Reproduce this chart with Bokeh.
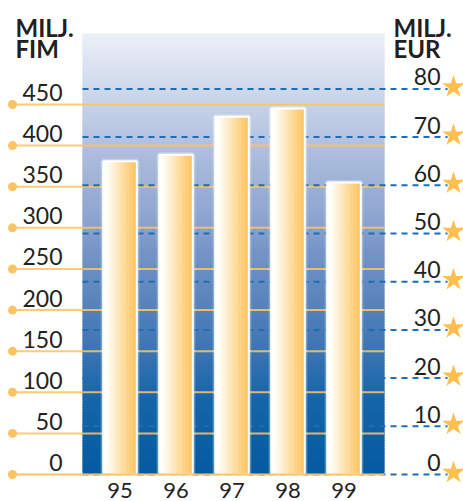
import numpy as np
from bokeh.plotting import figure
from bokeh.models import Range1d
from bokeh.core.properties import value
from bokeh.embed import file_html
from bokeh.resources import INLINE

# ---------------- data ----------------
years = ["95", "96", "97", "98", "99"]
fim_values = [381, 389, 435, 445, 355]
fim_ticks = [0, 50, 100, 150, 200, 250, 300, 350, 400, 450]
fim_tick_labels = ["0", "50", "100", "150", "200", "250", "300", "350", "400", "450"]
eur_ticks = [0, 10, 20, 30, 40, 50, 60, 70, 80]
eur_tick_labels = ["0", "10", "20", "30", "40", "50", "60", "70", "80"]
left_title = ["MILJ.", "FIM"]
right_title = ["MILJ.", "EUR"]

# ---------------- layout (picture pixels) ----------------
W, H = 463, 501
CAT0_PX, CAT_PX = 119.5, 56.0
BASE_PX, FIM_PX, EUR_PX = 474.0, 0.8222, 4.82
PLOT_L, PLOT_R, PLOT_T = 82, 384, 33
FONT = value("Lato")
TXT = "#231f20"
ORANGE = "#fbc462"
BLUE = "#1d6db5"


def xd(px):
    return (px - CAT0_PX) / CAT_PX


def yf(py):
    return (BASE_PX - py) / FIM_PX


def ye(py):
    return (BASE_PX - py) / EUR_PX


def interp(stops, t):
    ts = [s[0] for s in stops]
    out = []
    for tt in np.atleast_1d(t):
        rgb = [int(round(np.interp(tt, ts, [s[1][c] for s in stops]))) for c in range(3)]
        out.append("#%02x%02x%02x" % tuple(rgb))
    return out


p = figure(width=W, height=H, output_backend="svg", toolbar_location=None,
           x_range=Range1d(xd(0), xd(W)),
           y_range=Range1d(yf(H), yf(0)),
           x_axis_location=None, y_axis_location=None,
           min_border=0, min_border_left=0, min_border_right=0,
           min_border_top=0, min_border_bottom=0)
p.extra_y_ranges = {"eur": Range1d(ye(H), ye(0))}
p.grid.visible = False
p.outline_line_color = None
p.background_fill_color = "white"
p.border_fill_color = "white"

# background gradient of plot area
bg_stops = [(0.0, (5, 90, 160)), (0.168, (21, 101, 170)), (0.281, (60, 116, 178)),
            (0.508, (118, 148, 198)), (0.558, (136, 160, 205)), (0.762, (180, 195, 224)),
            (1.0, (236, 240, 248))]
n_bg = 160
top_val = yf(PLOT_T)
edges = np.linspace(0, top_val, n_bg + 1)
mids = (edges[:-1] + edges[1:]) / 2 / top_val
bg_cols = interp(bg_stops, mids)
p.quad(left=xd(PLOT_L), right=xd(PLOT_R), bottom=edges[:-1],
       top=np.minimum(edges[1:] + (edges[1] - edges[0]) * 0.6, top_val),
       fill_color=bg_cols, line_color=None)

# left (FIM) orange grid lines with dots
grid_fim = fim_ticks[1:]
p.segment(x0=xd(12), x1=xd(PLOT_R), y0=grid_fim, y1=grid_fim,
          line_color=ORANGE, line_width=2, line_alpha=0.88)
p.scatter(x=[xd(12)] * len(fim_ticks), y=fim_ticks, size=9,
          fill_color=ORANGE, line_color=None)

# right (EUR) blue dashed lines with stars
p.segment(x0=xd(PLOT_L), x1=xd(447), y0=eur_ticks, y1=eur_ticks, y_range_name="eur",
          line_color=BLUE, line_width=2, line_dash="6 5")
p.scatter(x=[xd(453)] * len(eur_ticks), y=[v + 0.4 for v in eur_ticks], y_range_name="eur",
          marker="star", size=24, fill_color="#fdc04e", line_color=None)

# bars with horizontal white->orange gradient
bw = 0.6
n_s = 28
bar_stops = [(0.0, (255, 255, 255)), (0.15, (255, 251, 242)), (0.55, (254, 224, 168)),
             (1.0, (253, 193, 92))]
slice_cols = interp(bar_stops, (np.arange(n_s) + 0.5) / n_s)
lefts, rights, tops, cols = [], [], [], []
for i, v in enumerate(fim_values):
    for k in range(n_s):
        l = i - bw / 2 + k * bw / n_s
        lefts.append(l)
        rights.append(min(l + bw / n_s * 1.6, i + bw / 2))
        tops.append(v)
        cols.append(slice_cols[k])
xs = list(range(len(years)))
p.quad(left=[x - bw / 2 for x in xs], right=[x + bw / 2 for x in xs], bottom=0, top=fim_values,
       fill_color=None, line_color="white", line_width=5, line_alpha=0.3)
p.quad(left=lefts, right=rights, bottom=0, top=tops, fill_color=cols, line_color=None)
p.quad(left=[x - bw / 2 for x in xs], right=[x + bw / 2 for x in xs], bottom=0, top=fim_values,
       fill_color=None, line_color="white", line_width=2)

# baseline
p.segment(x0=xd(12), x1=xd(PLOT_R), y0=0, y1=0, line_color=ORANGE, line_width=2)

# tick labels
p.text(x=[xd(PLOT_L)] * len(fim_ticks), y=fim_ticks, text=fim_tick_labels,
       x_offset=-20, y_offset=-12, text_align="right", text_baseline="alphabetic",
       text_font=FONT, text_font_size="23px", text_color=TXT)
p.text(x=[xd(440)] * len(eur_ticks), y=eur_ticks, text=eur_tick_labels, y_range_name="eur",
       y_offset=-12, text_align="right", text_baseline="alphabetic",
       text_font=FONT, text_font_size="23px", text_color=TXT)
p.text(x=xs, y=[0] * len(xs), text=years, y_offset=16, text_align="center",
       text_baseline="alphabetic", text_font=FONT, text_font_size="22px", text_color=TXT)

# axis titles
p.text(x=[xd(15)] * 2, y=[yf(27), yf(48)], text=left_title, text_align="left",
       text_baseline="alphabetic", text_font=FONT, text_font_style="bold",
       text_font_size="24px", text_color=TXT)
p.text(x=[xd(393)] * 2, y=[yf(27), yf(48)], text=right_title, text_align="left",
       text_baseline="alphabetic", text_font=FONT, text_font_style="bold",
       text_font_size="24px", text_color=TXT)

open("out.html", "w").write(file_html(p, INLINE))
